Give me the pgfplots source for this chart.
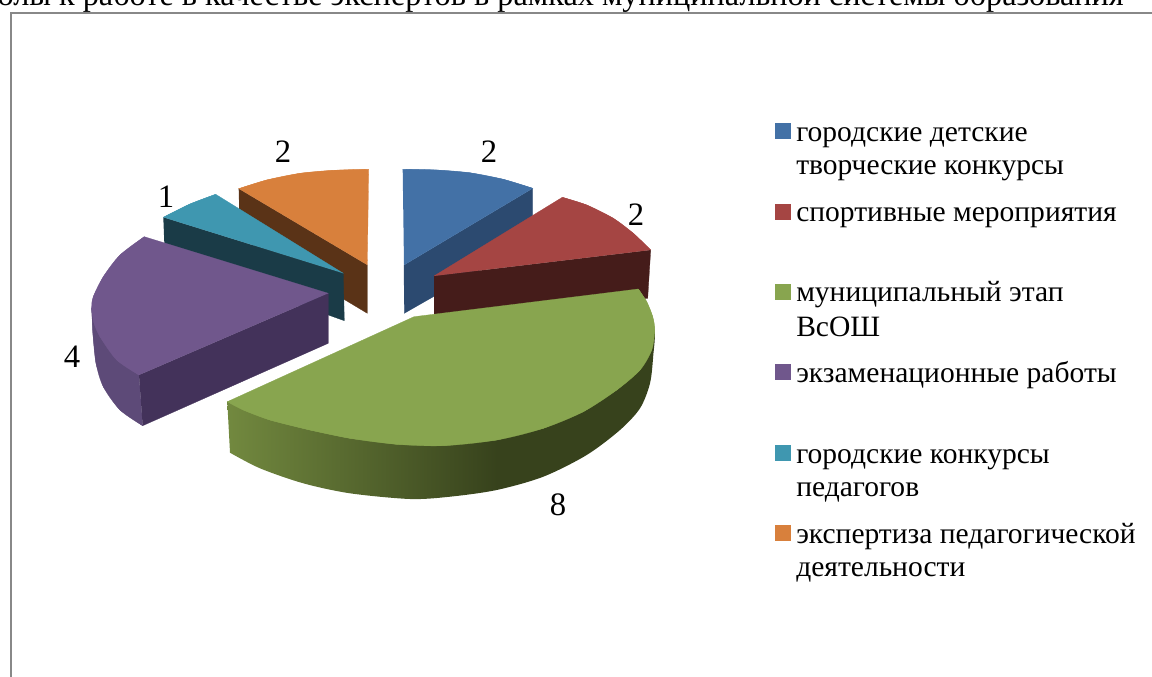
\documentclass[border=0pt]{standalone}
\usepackage{fontspec}
\setmainfont{Liberation Serif}
\usepackage{pgfplots}
\pgfplotsset{compat=1.18}
% slice colours: top face, dark cut face
\definecolor{bluetop}{HTML}{4371A6}
\definecolor{blueside}{HTML}{2C4A70}
\definecolor{redtop}{HTML}{A54543}
\definecolor{redside}{HTML}{451C1A}
\definecolor{greentop}{HTML}{88A54F}
\definecolor{greenlight}{HTML}{72893F}
\definecolor{greendark}{HTML}{37421C}
\definecolor{purpletop}{HTML}{70578C}
\definecolor{purpleouter}{HTML}{5D4A78}
\definecolor{purpleside}{HTML}{43325A}
\definecolor{tealtop}{HTML}{3F97B0}
\definecolor{tealside}{HTML}{1A3B47}
\definecolor{orangetop}{HTML}{D8803C}
\definecolor{orangeside}{HTML}{5A3317}
\definecolor{frame}{HTML}{888888}
% wall of the big slice: the path's box takes 25bp to 75bp of the shading
\pgfdeclarehorizontalshading{greenwall}{100bp}{color(0bp)=(greenlight); color(25bp)=(greenlight); color(56.5bp)=(greendark); color(100bp)=(greendark)}
\tikzset{
  slice/.style={fill=#1,draw=#1,line width=0.2pt},
  lab/.style={font=\fontsize{22.15}{26}\selectfont,inner sep=0pt,anchor=base west,text=black},
  val/.style={font=\fontsize{24.5}{28}\selectfont,inner sep=0pt,anchor=center,text=black},
}
\begin{document}
\begin{tikzpicture}
\clip (0,0) rectangle (864pt,507.75pt);
\begin{axis}[
    at={(0,0)},anchor=south west,
    scale only axis,
    width=864pt,height=507.75pt,
    xmin=0,xmax=1152,ymin=0,ymax=677,
    y dir=reverse,
    hide axis,
    clip=false
]
% frame
\addplot[draw=frame,line width=1.6pt] coordinates {(11,677)(11,13)(1152,13)};

% blue
\addplot[slice=blueside] coordinates {(532.7,188.3)(532.7,240)(404.3,313.3)(404,265)};
\addplot[slice=bluetop] coordinates {(402.7,169.3)(436.7,170)(470,172.8)(503.3,179.3)(532.7,188.3)(404,265)};
\addplot[slice=bluetop,smooth] coordinates {(402.7,169.3)(436.7,170)(470,172.8)(503.3,179.3)(532.7,188.3)};
% red
\addplot[slice=redside] coordinates {(434,276)(650.7,250)(647.7,298.3)(434,320)};
\addplot[slice=redtop] coordinates {(434,276)(562.3,197.3)(586.7,205)(613.3,218.3)(633.3,233.3)(650.7,250)};
\addplot[slice=redtop,smooth] coordinates {(562.3,197.3)(586.7,205)(613.3,218.3)(633.3,233.3)(650.7,250)};
% orange
\addplot[slice=orangeside] coordinates {(238.7,188.7)(367.3,265)(367.3,313.3)(240,237)};
\addplot[slice=orangetop] coordinates {(238.7,188.7)(266.7,180)(300,173.3)(333.3,170.3)(368.7,169.3)(367.3,265)};
\addplot[slice=orangetop,smooth] coordinates {(238.7,188.7)(266.7,180)(300,173.3)(333.3,170.3)(368.7,169.3)};
% teal
\addplot[slice=tealside] coordinates {(163.3,217.3)(343.3,273.3)(344.3,320.7)(328.3,315)(165,260)};
\addplot[slice=tealtop] coordinates {(163.3,217.3)(190,204)(215.7,194.3)(343.3,273.3)};
\addplot[slice=tealtop,smooth] coordinates {(163.3,217.3)(190,204)(215.7,194.3)};
% purple
\addplot[slice=purpleouter] coordinates {(91.7,308.3)(93,335)(96,363.3)(103.3,386.7)(120,410)(142.7,425.7)(139,375)(116.7,360)};
\addplot[slice=purpleouter,smooth] coordinates {(91.7,308.3)(93,335)(96,363.3)(103.3,386.7)(120,410)(142.7,425.7)};
\addplot[slice=purpleside] coordinates {(139,375)(328.3,293.3)(328.3,343.3)(142.7,425.7)};
\addplot[slice=purpletop] coordinates {(328.3,293.3)(144.3,236.7)(120,255)(103.3,276.7)(93.3,296.7)(91.7,308.3)(94,323)(100,336.7)(116.7,360)(139,375)};
\addplot[slice=purpletop,smooth] coordinates {(144.3,236.7)(120,255)(103.3,276.7)(93.3,296.7)(91.7,308.3)(94,323)(100,336.7)(116.7,360)(139,375)};
% green, wall first and then the top face over it
\addplot[draw=none,shading=greenwall,smooth] coordinates {(230,452.7)(260,468.3)(303.3,483.3)(350,493.3)(410,499)(450,496.7)(496.7,490)(543.3,476.7)(586.7,455)(620,430)(640,408.3)(650,383.3)(653.3,355)(654.5,330)(645,310)(600,310)(400,350)(227.3,401.7)};
\addplot[slice=greentop] coordinates {(227.3,401.7)(414,316.7)(638.3,289)(646.7,301.7)(652.7,316.7)(654.7,330)(651.7,350)(640,370)(616.7,390)(583.3,411.7)(543.3,428.3)(496.7,440)(443.3,445.7)(396.7,444.3)(350,438.3)(310,430)(270,420)(243.3,410)};
\addplot[slice=greentop,smooth] coordinates {(638.3,289)(646.7,301.7)(652.7,316.7)(654.7,330)(651.7,350)(640,370)(616.7,390)(583.3,411.7)(543.3,428.3)(496.7,440)(443.3,445.7)(396.7,444.3)(350,438.3)(310,430)(270,420)(243.3,410)(227.3,401.7)};

% legend swatches
\addplot[slice=bluetop] coordinates {(775,123.3)(790,123.3)(790,138)(775,138)};
\addplot[slice=redtop] coordinates {(775,204)(790,204)(790,218.7)(775,218.7)};
\addplot[slice=greentop] coordinates {(775,284)(790,284)(790,299)(775,299)};
\addplot[slice=purpletop] coordinates {(775,364.3)(790,364.3)(790,379)(775,379)};
\addplot[slice=tealtop] coordinates {(775,445)(790,445)(790,460)(775,460)};
\addplot[slice=orangetop] coordinates {(775,525.3)(790,525.3)(790,540)(775,540)};

% legend text
\node[lab] at (axis cs:796,141.7) {городские детские};
\node[lab] at (axis cs:796,175) {творческие конкурсы};
\node[lab] at (axis cs:796,221.7) {спортивные мероприятия};
\node[lab] at (axis cs:796,301.7) {муниципальный этап};
\node[lab] at (axis cs:796,336) {ВсОШ};
\node[lab] at (axis cs:796,382.7) {экзаменационные работы};
\node[lab] at (axis cs:796,463) {городские конкурсы};
\node[lab] at (axis cs:796,496.7) {педагогов};
\node[lab] at (axis cs:796,543) {экспертиза педагогической};
\node[lab] at (axis cs:796,576.7) {деятельности};

% value labels
\node[val] at (axis cs:489,152) {2};
\node[val] at (axis cs:636,215) {2};
\node[val] at (axis cs:558,505) {8};
\node[val] at (axis cs:72,357) {4};
\node[val] at (axis cs:166,197) {1};
\node[val] at (axis cs:283,152) {2};

% cut-off line of running text above the chart
\node[font=\fontsize{24.2}{28}\selectfont,inner sep=0pt,anchor=base east] at (axis cs:1124,6) {школы к работе в качестве экспертов в рамках муниципальной системы образования};
\end{axis}
\end{tikzpicture}
\end{document}
